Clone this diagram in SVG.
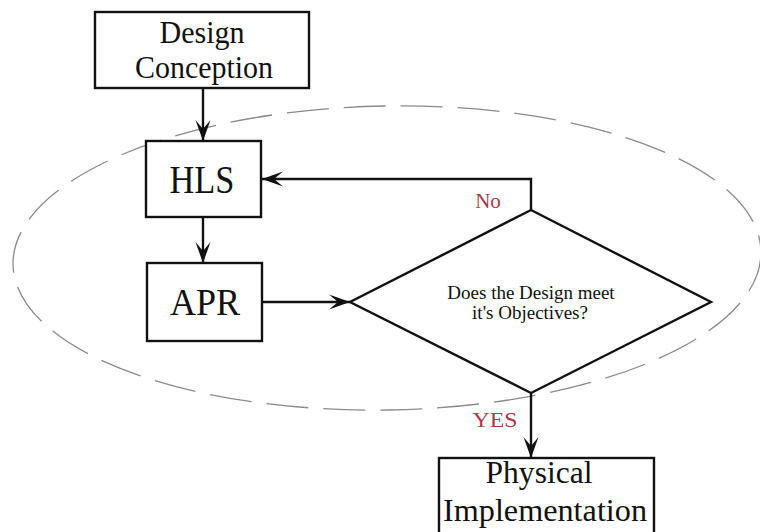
<svg xmlns="http://www.w3.org/2000/svg" width="760" height="532" viewBox="0 0 760 532">
  <style>
    .box { fill: #ffffff; stroke: #111111; stroke-width: 2.4; }
    .edge { fill: none; stroke: #111111; stroke-width: 2.4; }
    .label { font-family: "Liberation Serif", "Times New Roman", serif; fill: #111111; text-anchor: middle; }
    .tag { font-family: "Liberation Serif", "Times New Roman", serif; fill: #a83a4c; text-anchor: middle; font-size: 21px; }
    .scope { fill: none; stroke: #8a8a8a; stroke-width: 1.3; stroke-dasharray: 42 15; }
  </style>
  <defs>
    <marker id="arrow" markerUnits="userSpaceOnUse" orient="auto" refX="0" refY="0" markerWidth="24" markerHeight="18" overflow="visible">
      <path d="M0,0 L-21,-7.5 L-12,0 L-21,7.5 Z" fill="#111111"/>
    </marker>
  </defs>

  <rect width="760" height="532" fill="#ffffff"/>

  <!-- dashed boundary around the design loop -->
  <ellipse class="scope" cx="387" cy="258" rx="374" ry="152" transform="rotate(-1 387 258)"/>

  <g id="connectors">
    <path class="edge" d="M203,88 L203,141" marker-end="url(#arrow)"/>
    <path class="edge" d="M203,217 L203,263" marker-end="url(#arrow)"/>
    <path class="edge" d="M262,302 L350,302" marker-end="url(#arrow)"/>
    <path class="edge" d="M531,210 L531,179 L262,179" marker-end="url(#arrow)"/>
    <path class="edge" d="M531,393 L531,458" marker-end="url(#arrow)"/>
    <text class="tag" x="488" y="208">No</text>
    <text class="tag" x="495" y="427" textLength="45" lengthAdjust="spacingAndGlyphs">YES</text>
  </g>

  <g id="design-conception">
    <rect class="box" x="95" y="12" width="214" height="76"/>
    <text class="label" x="202" y="43" font-size="31" textLength="85" lengthAdjust="spacingAndGlyphs">Design</text>
    <text class="label" x="204" y="78" font-size="31" textLength="138" lengthAdjust="spacingAndGlyphs">Conception</text>
  </g>

  <g id="hls">
    <rect class="box" x="146" y="141" width="115" height="76"/>
    <text class="label" x="202" y="193" font-size="39" textLength="65" lengthAdjust="spacingAndGlyphs">HLS</text>
  </g>

  <g id="apr">
    <rect class="box" x="147" y="263" width="115" height="78"/>
    <text class="label" x="205" y="315" font-size="38" textLength="70" lengthAdjust="spacingAndGlyphs">APR</text>
  </g>

  <g id="objectives-check">
    <polygon class="box" points="531,210 711,302 531,393 350,302"/>
    <text class="label" x="531" y="299" font-size="19">Does the Design meet</text>
    <text class="label" x="530" y="319" font-size="19">it's Objectives?</text>
  </g>

  <g id="physical-implementation">
    <rect class="box" x="439" y="458" width="215" height="90"/>
    <text class="label" x="539" y="483" font-size="32" textLength="107" lengthAdjust="spacingAndGlyphs">Physical</text>
    <text class="label" x="545" y="521" font-size="32" textLength="204" lengthAdjust="spacingAndGlyphs">Implementation</text>
  </g>
</svg>
